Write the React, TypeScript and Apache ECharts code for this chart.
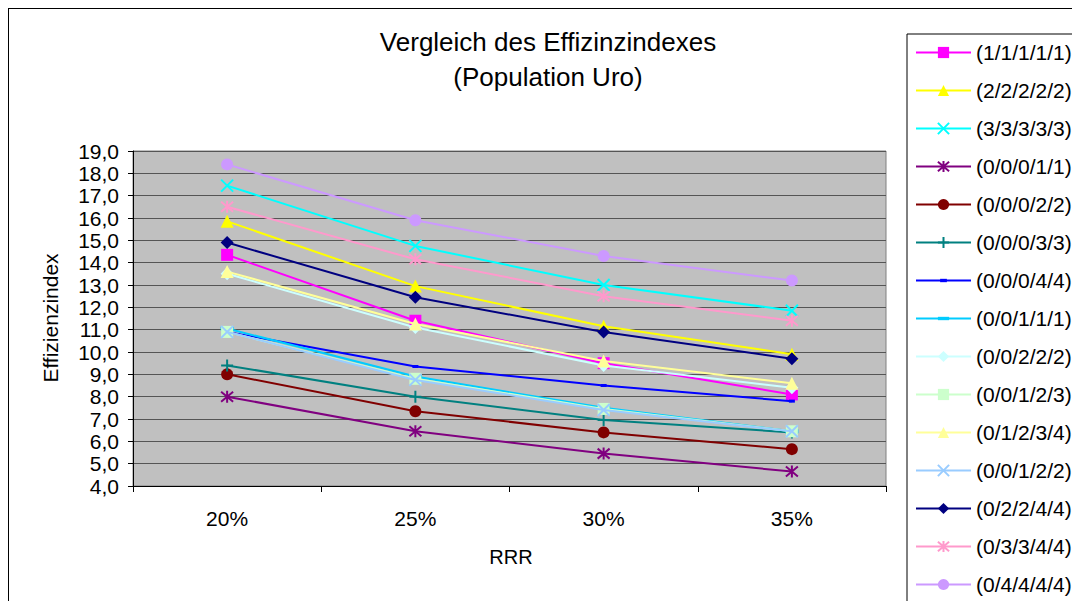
import React, { useEffect, useRef } from "react";
import * as echarts from "echarts";

const categories = ["20%", "25%", "30%", "35%"];
const seriesNames = [
  "(1/1/1/1/1)", "(2/2/2/2/2)", "(3/3/3/3/3)", "(0/0/0/1/1)", "(0/0/0/2/2)",
  "(0/0/0/3/3)", "(0/0/0/4/4)", "(0/0/1/1/1)", "(0/0/2/2/2)", "(0/0/1/2/3)",
  "(0/1/2/3/4)", "(0/0/1/2/2)", "(0/2/2/4/4)", "(0/3/3/4/4)", "(0/4/4/4/4)",
];
const s11111 = [14.35, 11.4, 9.5, 8.1];
const s22222 = [15.85, 12.95, 11.15, 9.9];
const s33333 = [17.45, 14.75, 13.0, 11.85];
const s00011 = [8.0, 6.45, 5.45, 4.65];
const s00022 = [9.0, 7.35, 6.4, 5.65];
const s00033 = [9.4, 8.0, 6.95, 6.4];
const s00044 = [10.9, 9.35, 8.5, 7.8];
const s00111 = [11.05, 8.9, 7.5, 6.45];
const s00222 = [13.5, 11.1, 9.4, 8.4];
const s00123 = [10.9, 8.8, 7.45, 6.45];
const s01234 = [13.6, 11.25, 9.6, 8.6];
const s00122 = [10.9, 8.75, 7.4, 6.45];
const s02244 = [14.9, 12.45, 10.9, 9.7];
const s03344 = [16.5, 14.15, 12.5, 11.4];
const s04444 = [18.4, 15.9, 14.3, 13.2];
const allValues = [
  s11111, s22222, s33333, s00011, s00022, s00033, s00044, s00111,
  s00222, s00123, s01234, s00122, s02244, s03344, s04444,
];
const colors = [
  "#FF00FF", "#FFFF00", "#00FFFF", "#800080", "#800000", "#008080", "#0000FF",
  "#00CCFF", "#CCFFFF", "#CCFFCC", "#FFFF99", "#99CCFF", "#000080", "#FF99CC", "#CC99FF",
];
const yTicks = { min: 4, max: 19, interval: 1 };

const X_PATH = "path://M0 0 L10 10 M10 0 L0 10";
const AST_PATH = "path://M0 0 L10 10 M10 0 L0 10 M5 -1 L5 11";
const PLUS_PATH = "path://M5 0 L5 10 M0 5 L10 5";
// dash shapes padded to a square bounding box by move-to points
const SHORT_DASH = "path://M0 0 M10 10 M2 3.5 L8 3.5 L8 6.5 L2 6.5 Z";
const LONG_DASH = "path://M0 0 M10 10 M0 3.5 L10 3.5 L10 6.5 L0 6.5 Z";

const symbols: any[] = [
  ["rect", 12, false], ["triangle", 13, false], [X_PATH, 12, true], [AST_PATH, 12, true],
  ["circle", 12, false], [PLUS_PATH, 12, true], [SHORT_DASH, 10, false], [LONG_DASH, 13, false],
  ["diamond", 13, false], ["rect", 12, false], ["triangle", 13, false], [X_PATH, 12, true],
  ["diamond", 13, false], [AST_PATH, 12, true], ["circle", 12, false],
];

const FONT = "'Liberation Sans', Arial, sans-serif";

export default function App() {
  const ref = useRef<HTMLDivElement>(null);
  useEffect(() => {
    if (!ref.current) return;
    const chart = echarts.init(ref.current, undefined, { renderer: "svg" });
    const series = seriesNames.map((name, i) => {
      const [sym, size, stroked] = symbols[i];
      return {
        name,
        type: "line",
        data: allValues[i],
        symbol: sym,
        symbolSize: size,
        showAllSymbol: true,
        lineStyle: { color: colors[i], width: 2 },
        itemStyle: stroked
          ? { color: "none", borderColor: colors[i], borderWidth: 2 }
          : { color: colors[i], borderColor: colors[i], borderWidth: 0 },
        emphasis: { disabled: true },
        z: 2 + i,
      };
    });
    chart.setOption({
      animation: false,
      textStyle: { fontFamily: FONT },
      color: colors,
      grid: {
        left: 124, top: 142, width: 753, height: 335,
        show: true, backgroundColor: "#C0C0C0", borderColor: "#808080", borderWidth: 1,
      },
      xAxis: {
        type: "category",
        data: categories,
        boundaryGap: true,
        axisLine: { show: true, lineStyle: { color: "#000", width: 1 } },
        axisTick: { show: true, length: 6, inside: false, alignWithLabel: false, lineStyle: { color: "#000" } },
        axisLabel: { color: "#000", fontSize: 21, margin: 22, fontFamily: FONT },
        splitLine: { show: false },
      },
      yAxis: {
        type: "value",
        min: yTicks.min, max: yTicks.max, interval: yTicks.interval,
        axisLine: { show: true, lineStyle: { color: "#000", width: 1 } },
        axisTick: { show: true, length: 5, lineStyle: { color: "#000" } },
        axisLabel: {
          color: "#000", fontSize: 21, margin: 14, fontFamily: FONT,
          formatter: (v: number) => v.toFixed(1).replace(".", ","),
        },
        splitLine: { show: true, lineStyle: { color: "#555", width: 1 } },
      },
      legend: {
        orient: "vertical",
        left: 898, top: 25,
        padding: [8, 24, 10, 8],
        borderColor: "#000", borderWidth: 1,
        itemWidth: 55, itemHeight: 14, itemGap: 17,
        textStyle: { color: "#000", fontSize: 21, lineHeight: 16, fontFamily: FONT },
        data: seriesNames,
      },
      graphic: [
        { type: "text", x: 539, y: 33, style: { text: "Vergleich des Effizinzindexes", fill: "#000", font: `26px ${FONT}`, textAlign: "center", textVerticalAlign: "middle" } },
        { type: "text", x: 539, y: 68, style: { text: "(Population Uro)", fill: "#000", font: `26px ${FONT}`, textAlign: "center", textVerticalAlign: "middle" } },
        { type: "text", x: 41, y: 309, rotation: Math.PI / 2, style: { text: "Effizienzindex", fill: "#000", font: `21px ${FONT}`, textAlign: "center", textVerticalAlign: "middle" } },
        { type: "text", x: 502, y: 548, style: { text: "RRR", fill: "#000", font: `20px ${FONT}`, textAlign: "center", textVerticalAlign: "middle" } },
      ],
      series,
    });
    return () => chart.dispose();
  }, []);
  return (
    <div
      style={{
        width: 1071, height: 592, borderLeft: "1px solid #000", borderTop: "1px solid #000",
        background: "#fff", overflow: "hidden",
      }}
    >
      <div ref={ref} style={{ width: 1100, height: 660 }} />
    </div>
  );
}
